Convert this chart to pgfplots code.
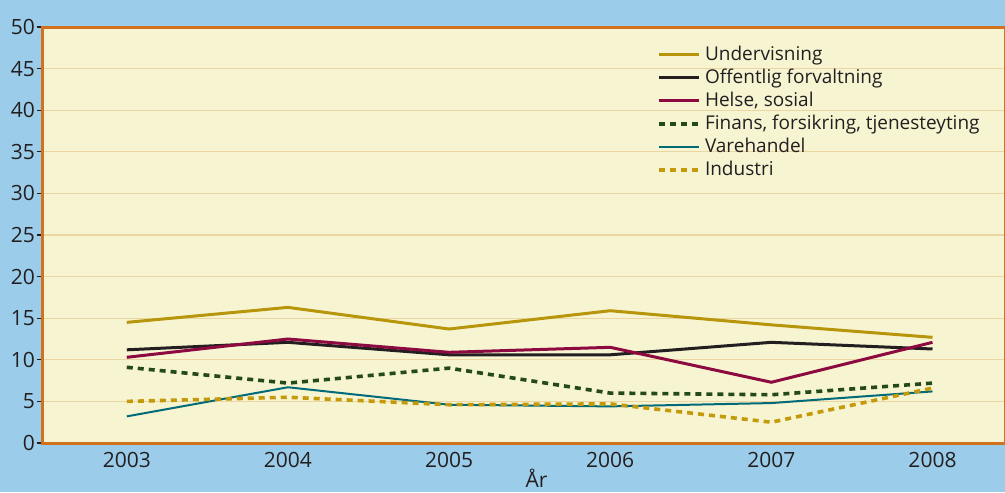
\documentclass[border=0pt]{standalone}
\usepackage{fontspec}
\setmainfont{Open Sans}
\usepackage{pgfplots}
\pgfplotsset{compat=1.18}

\definecolor{bgblue}{HTML}{9BCDEB}
\definecolor{plotbg}{HTML}{F7F4D2}
\definecolor{frame}{HTML}{D2721E}
\definecolor{gridc}{HTML}{EBD5A0}
\definecolor{txt}{HTML}{231F20}
\definecolor{cUnd}{HTML}{B8960C}
\definecolor{cOff}{HTML}{231F20}
\definecolor{cHel}{HTML}{8C0A40}
\definecolor{cFin}{HTML}{254A1A}
\definecolor{cVar}{HTML}{006A78}
\definecolor{cInd}{HTML}{C49A0A}

\begin{document}
\begin{tikzpicture}
% blue surround, the axis box has its south west corner at the origin
\fill[bgblue] (-21.5pt,-24.5pt) rectangle (481pt,221.5pt);
\begin{axis}[
    name=ax,
    at={(0pt,0pt)}, anchor=south west,
    scale only axis,
    width=481pt, height=208pt,
    xmin=2002.48, xmax=2008.45,
    ymin=0, ymax=50,
    xtick={2003,2004,2005,2006,2007,2008},
    ytick={0,5,...,50},
    /pgf/number format/assume math mode=true,
    xticklabel style={/pgf/number format/1000 sep={}, font=\fontsize{10.5}{12}\selectfont, text=txt, yshift=2pt},
    yticklabel style={font=\fontsize{10.5}{12}\selectfont, text=txt, xshift=2.5pt},
    axis background/.style={fill=plotbg},
    axis line style={draw=frame, line width=1.5pt},
    ymajorgrids, major grid style={draw=gridc, line width=0.6pt},
    tick align=outside,
    major tick length=3pt,
    xtick style={draw=none},
    ytick style={draw=txt, line width=0.6pt},
    xlabel={År},
    xlabel style={at={(axis description cs:0.513,0)}, anchor=north, yshift=-9.5pt, font=\fontsize{10.5}{12}\selectfont, text=txt},
    legend style={at={(axis description cs:0.632,0.975)}, anchor=north west, draw=none, fill=none,
        font=\fontsize{9.5}{11}\selectfont, text=txt, row sep=-1.2pt},
    legend cell align=left,
    legend image code/.code={\draw[#1] (0pt,0pt) -- (20pt,0pt);},
]
\addplot[cUnd, line width=1.5pt] coordinates {(2003,14.5) (2004,16.3) (2005,13.7) (2006,15.9) (2007,14.2) (2008,12.7)};
\addplot[cOff, line width=1.5pt] coordinates {(2003,11.2) (2004,12.1) (2005,10.6) (2006,10.6) (2007,12.1) (2008,11.3)};
\addplot[cHel, line width=1.5pt] coordinates {(2003,10.3) (2004,12.5) (2005,10.9) (2006,11.5) (2007,7.3) (2008,12.1)};
\addplot[cFin, line width=1.8pt, dash pattern=on 3pt off 2.5pt] coordinates {(2003,9.1) (2004,7.2) (2005,9.0) (2006,6.0) (2007,5.8) (2008,7.2)};
\addplot[cVar, line width=1pt] coordinates {(2003,3.2) (2004,6.7) (2005,4.6) (2006,4.4) (2007,4.8) (2008,6.2)};
\addplot[cInd, line width=1.8pt, dash pattern=on 3pt off 2.5pt] coordinates {(2003,5.0) (2004,5.5) (2005,4.6) (2006,4.7) (2007,2.5) (2008,6.6)};
\legend{Undervisning, Offentlig forvaltning, {Helse, sosial}, {Finans, forsikring, tjenesteyting}, Varehandel, Industri}
\end{axis}
\pgfresetboundingbox
\path (-21.5pt,-24.5pt) rectangle (481pt,221.5pt);
\end{tikzpicture}
\end{document}
